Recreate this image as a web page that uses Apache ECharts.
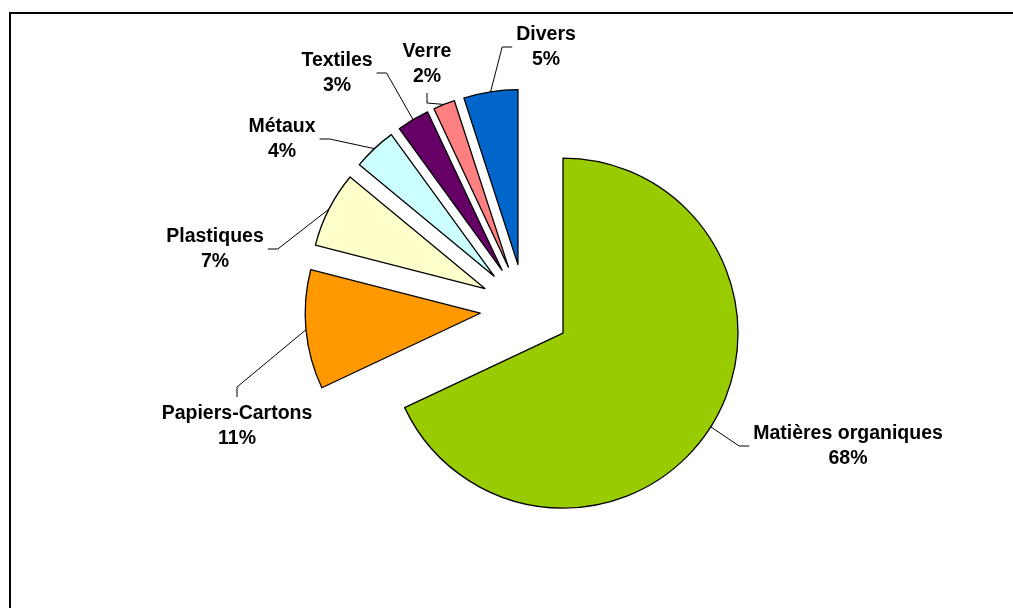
<!DOCTYPE html>
<html>
<head>
<meta charset="utf-8">
<title>Composition des déchets</title>
<script src="https://cdn.jsdelivr.net/npm/echarts@6/dist/echarts.min.js"></script>
<style>
  html, body { margin: 0; padding: 0; background: #fff; }
  #chart { width: 1013px; height: 608px; }
</style>
</head>
<body>
<div id="chart"></div>
<script>
// catégories et parts (%)
const categories = ['Matières organiques', 'Papiers-Cartons', 'Plastiques', 'Métaux', 'Textiles', 'Verre', 'Divers']
const shares = [68, 11, 7, 4, 3, 2, 5]

// couleurs des parts
const sliceColors = ['#99CC00', '#FF9900', '#FFFFCC', '#CCFFFF', '#660066', '#FF8080', '#0066CC']

// géométrie du camembert
const pieCenter = [525, 309]
const pieRadius = 175
const explode = 45

// position des étiquettes : centre x, centre y, côté où arrive le trait
const labelSpots = [
  [848, 446, 'left'],
  [237, 426, 'top'],
  [215, 249, 'right'],
  [282, 139, 'right'],
  [337, 73, 'right'],
  [427, 64, 'bottom'],
  [546, 47, 'left'],
]

const total = shares.reduce((a, b) => a + b, 0)

// point du bord extérieur au milieu de chaque part (part écartée)
function arcPoint(i) {
  let before = 0
  for (let k = 0; k < i; k++) before += shares[k]
  const mid = (before + shares[i] / 2) / total * Math.PI * 2
  const r = pieRadius + explode
  return [pieCenter[0] + r * Math.sin(mid), pieCenter[1] - r * Math.cos(mid)]
}

const chart = echarts.init(document.getElementById('chart'))

const labelFont = {
  color: '#000',
  fontFamily: 'Arial, "Liberation Sans", sans-serif',
  fontWeight: 'bold',
  fontSize: 19.5,
  lineHeight: 25,
}

chart.setOption({
  animation: false,
  // cadre
  graphic: [
    {
      type: 'rect',
      shape: { x: 10, y: 13, width: 1020, height: 620 },
      style: { fill: 'none', stroke: '#000', lineWidth: 2 },
      silent: true,
    },
  ],
  series: [
    {
      // les parts, toutes écartées du centre
      type: 'pie',
      center: pieCenter,
      radius: pieRadius,
      startAngle: 90,
      clockwise: true,
      selectedMode: 'multiple',
      selectedOffset: explode,
      avoidLabelOverlap: false,
      label: { show: false },
      labelLine: { show: false },
      itemStyle: { borderColor: '#000', borderWidth: 1.3 },
      emphasis: { disabled: true },
      select: { itemStyle: { borderColor: '#000', borderWidth: 1.3 } },
      data: categories.map((name, i) => ({
        name,
        value: shares[i],
        selected: true,
        itemStyle: { color: sliceColors[i] },
        select: { itemStyle: { color: sliceColors[i] } },
      })),
    },
    {
      // étiquettes et traits de rappel
      type: 'pie',
      center: pieCenter,
      radius: pieRadius,
      startAngle: 90,
      clockwise: true,
      silent: true,
      selectedMode: false,
      avoidLabelOverlap: false,
      itemStyle: { color: 'transparent', borderWidth: 0 },
      emphasis: { disabled: true },
      label: Object.assign({ show: true, position: 'outside', formatter: '{b}\n{d}%' }, labelFont),
      labelLine: { show: true, length: 10, length2: 10, lineStyle: { color: '#000', width: 1 } },
      labelLayout: function (params) {
        const i = params.dataIndex
        const [x, y, side] = labelSpots[i]
        const w = params.labelRect.width
        const h = params.labelRect.height
        const gap = 4
        const tail = 10
        let end, bend
        if (side === 'left') {
          end = [x - w / 2 - gap, y]
          bend = [end[0] - tail, y]
        } else if (side === 'right') {
          end = [x + w / 2 + gap, y]
          bend = [end[0] + tail, y]
        } else if (side === 'top') {
          end = [x, y - h / 2 - gap]
          bend = [x, end[1] - tail]
        } else {
          end = [x, y + h / 2 + gap]
          bend = [x, end[1] + tail]
        }
        return {
          x: x,
          y: y,
          align: 'center',
          verticalAlign: 'middle',
          labelLinePoints: [arcPoint(i), bend, end],
        }
      },
      data: categories.map((name, i) => ({ name, value: shares[i] })),
    },
  ],
})
</script>
</body>
</html>
